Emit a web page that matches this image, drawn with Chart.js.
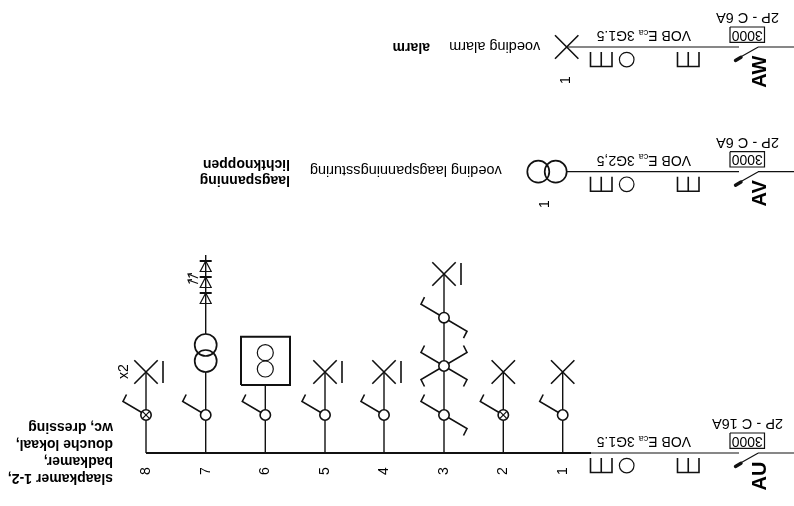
<!DOCTYPE html>
<html><head><meta charset="utf-8">
<style>html,body{margin:0;padding:0;background:#fff}canvas{display:block}</style>
<script src="https://cdn.jsdelivr.net/npm/chart.js@4"></script></head>
<body><canvas id="c" width="794" height="506"></canvas>
<script>
// ---- values read from the schematic (axis units of the drawing sheet) ----
const circuitNames   = ['1','2','3','4','5','6','7','8'];
const circuitAxis    = [562.7,503.3,444,384,325,265.3,205.7,146];
const crossedSwitch  = ['2','8'];
const lampOnly       = ['1','2'];
const lampWithBar    = ['4','5','8'];
const feederNames    = ['AU','AV','AW'];
const feederAxis     = [453,171.7,47];
const feederBreaker  = ['2P - C 16A','2P - C 6A','2P - C 6A'];
const feederCable    = ['3G1.5','3G2,5','3G1.5'];
const feederRating   = ['3000','3000','3000'];
const feederNote     = ['','voeding laagspanningssturing','voeding alarm'];
const busLabel       = ['slaapkamer 1-2,','badkamer,','douche lokaal,','wc, dressing'];
const lowVoltLabel   = ['laagspanning','lichtknoppen'];
const alarmLabel     = ['alarm'];

const SWITCH_Y = 415, LAMP_Y = 372;
const wires = [], stems = [], symbols = [], heavy = [], bus = [], tips = [];
const switchDots = [], crossDots = [], cableDots = [];
const smallRings = [], bigRings = [], texts = [];
function seg(list, ...pts){ pts.forEach(p=>list.push({x:p[0],y:p[1]})); list.push({x:NaN,y:NaN}); }
function lamp(x,y,r=11.7){ seg(symbols,[x-r,y-r],[x+r,y+r]); seg(symbols,[x-r,y+r],[x+r,y-r]); }
function bar(x,y){ seg(symbols,[x+17,y-11],[x+17,y+11]); }
// blade(sx,sy): sx/sy give the quadrant of the switch blade
function blade(x,y,sx,sy){ seg(symbols,[x,y],[x+sx*23,y+sy*13.5],[x+sx*19.5,y+sy*20.5]); }
function comb(x0,y){ const w=21.5; seg(symbols,[x0,y+5],[x0,y+19.5],[x0+w,y+19.5],[x0+w,y+5]); seg(symbols,[x0+w/2,y+5],[x0+w/2,y+19.5]); }
function diode(x,yBar){ seg(heavy,[x-6,yBar],[x+6,yBar]); seg(wires,[x,yBar],[x-5.5,yBar+10.5],[x+5.5,yBar+10.5],[x,yBar]); }
function arrow(x0,y0,x1,y1){ seg(wires,[x0,y0],[x1,y1]); seg(wires,[x1+4,y1-0.4],[x1,y1],[x1+1.6,y1+3.6]); }

// ---- bus and circuits ----
seg(bus,[circuitAxis[7],feederAxis[0]],[591,feederAxis[0]]);
circuitNames.forEach((name,i)=>{
  const x = circuitAxis[i];
  texts.push({t:name,x,y:471,rot:-90,size:14});
  (crossedSwitch.includes(name)?crossDots:switchDots).push({x,y:SWITCH_Y});
  blade(x,SWITCH_Y,-1,-1);
  if(lampOnly.includes(name)){ seg(stems,[x,453],[x,LAMP_Y]); lamp(x,LAMP_Y); }
  if(lampWithBar.includes(name)){ seg(stems,[x,453],[x,LAMP_Y]); lamp(x,LAMP_Y); bar(x,LAMP_Y); }
  if(name==='3'){
    seg(stems,[x,453],[x,274]); lamp(x,274); bar(x,274);
    blade(x,SWITCH_Y,1,1);
    blade(x,366,-1,-1); blade(x,366,1,-1); blade(x,366,-1,1); blade(x,366,1,1);
    blade(x,317.7,-1,-1); blade(x,317.7,1,1);
    switchDots.push({x,y:366},{x,y:317.7});
  }
  if(name==='6'){
    seg(stems,[x,453],[x,385]);
    seg(heavy,[241,385],[290,385],[290,336.7],[241,336.7],[241,385]);
    smallRings.push({x,y:352.7},{x,y:369});
  }
  if(name==='7'){
    seg(stems,[x,453],[x,372]); seg(stems,[x,334],[x,255]);
    bigRings.push({x,y:345},{x,y:361});
    diode(x,261); diode(x,277); diode(x,293);
    arrow(198,278,188,274); arrow(198,283.5,188,280);
  }
});
texts.push({t:'x2',x:124.5,y:371.5,rot:-90,size:14});

// ---- feeders ----
const feederStart = [591,567,566.7];
feederNames.forEach((name,i)=>{
  const y = feederAxis[i];
  seg(wires,[feederStart[i],y],[739,y]); seg(wires,[758,y],[794,y]);
  seg(wires,[758.3,y],[741,y+9.7]);
  seg(tips,[735.5,y+13.5],[741,y+10.3]);
  comb(677.5,y); comb(590.5,y);
  cableDots.push({x:626.7,y:y+12.6});
  seg(wires,[730,y-20],[764.5,y-20],[764.5,y-4.7],[730,y-4.7],[730,y-20]);
  texts.push({t:feederRating[i],x:747.3,y:y-12.5,rot:180,size:14,align:'center'});
  texts.push({t:feederBreaker[i],x:747.5,y:y-29.7,rot:180,size:14.5,align:'center'});
  texts.push({t:name,x:760,y:y+8.5,rot:-90,size:20,bold:true,align:'right'});
  texts.push({runs:[['VOB E',14,0],['ca',9,3],[' '+feederCable[i],14,0]],x:691,y:y-12,rot:180});
  if(feederNote[i]) texts.push({t:feederNote[i],x:501.7+(i===2?38.5:0),y:y-1.5,rot:180,size:14.5,align:'left'});
});
lamp(566.7,feederAxis[2]);
bigRings.push({x:538.3,y:feederAxis[1]},{x:555.7,y:feederAxis[1]});
texts.push({t:'1',x:566,y:80,rot:-90,size:14},{t:'1',x:545,y:204,rot:-90,size:14});
busLabel.forEach((t,i)=>texts.push({t,x:113,y:478-i*17,rot:180,size:14,bold:true,align:'left'}));
lowVoltLabel.forEach((t,i)=>texts.push({t,x:290,y:180-i*16,rot:180,size:14,bold:true,align:'left'}));
alarmLabel.forEach(t=>texts.push({t,x:430,y:46.7,rot:180,size:14,bold:true,align:'left'}));

const textPlugin = { id:'sheetText', afterDatasetsDraw(chart){
  const {ctx,scales:{x:sx,y:sy}} = chart;
  ctx.save(); ctx.fillStyle='#000'; ctx.textBaseline='middle';
  const F='"Liberation Sans",Arial,sans-serif';
  texts.forEach(o=>{
    ctx.save();
    ctx.translate(sx.getPixelForValue(o.x),sy.getPixelForValue(o.y));
    ctx.rotate(o.rot*Math.PI/180);
    if(o.runs){
      ctx.textAlign='left'; let p=0;
      o.runs.forEach(([s,size,dy])=>{ ctx.font=size+'px '+F; ctx.fillText(s,p,dy); p+=ctx.measureText(s).width; });
    } else {
      ctx.textAlign=o.align||'center';
      ctx.font=(o.bold?'bold ':'')+o.size+'px '+F;
      ctx.fillText(o.t,0,0);
    }
    ctx.restore();
  });
  ctx.restore();
}};
const line=(data,w,cap='butt')=>({data,showLine:true,spanGaps:false,borderColor:'#111',borderWidth:w,borderCapStyle:cap,borderJoinStyle:'miter',pointRadius:0,tension:0,fill:false});
const ring=(data,r,bg,w=1.6,style='circle')=>({data,showLine:false,pointStyle:style,pointRadius:r,pointBorderWidth:w,pointBorderColor:'#111',pointBackgroundColor:bg,backgroundColor:bg,borderColor:'#111'});

new Chart(document.getElementById('c'),{
  type:'scatter',
  data:{datasets:[
    ring(crossDots,4.4,'rgba(0,0,0,0)',1.2,'crossRot'),
    ring(crossDots,5.2,'#fff'),
    ring(switchDots,5.2,'#fff'),
    ring(cableDots,7.3,'rgba(0,0,0,0)',1.2),
    ring(smallRings,8,'rgba(0,0,0,0)',1.2),
    ring(bigRings,11,'rgba(0,0,0,0)',1.7),
    line(tips,3.4,'round'),
    line(bus,2.2),
    line(heavy,2),
    line(symbols,1.6),
    line(stems,1.4),
    line(wires,1.2)
  ]},
  options:{
    responsive:false,animation:false,devicePixelRatio:1,
    layout:{padding:0,autoPadding:false},
    plugins:{legend:{display:false},tooltip:{enabled:false}},
    scales:{
      x:{type:'linear',min:0,max:794,display:false},
      y:{type:'linear',min:0,max:506,reverse:true,display:false}
    }
  },
  plugins:[textPlugin]
});
</script></body></html>
